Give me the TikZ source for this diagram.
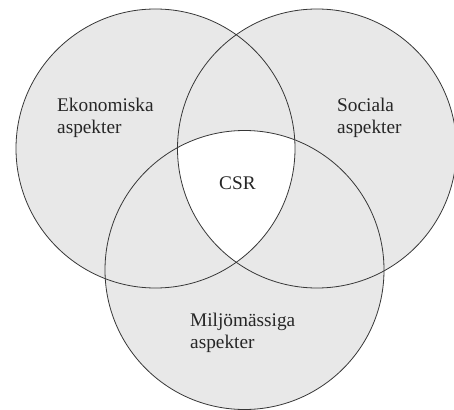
\documentclass[tikz,border=0pt]{standalone}
\usepackage{fontspec}
\setmainfont{Liberation Serif}
\definecolor{vennGray}{RGB}{232,232,232}
\definecolor{vennLine}{RGB}{55,55,55}
\usepackage{tikz}

\begin{document}
\begin{tikzpicture}[x=1pt, y=-1pt,
  disc/.style={fill=vennGray},
  rim/.style={draw=vennLine, line width=0.8pt},
  areatext/.style={anchor=base west, inner sep=0pt, align=left,
                   font=\fontsize{19.3}{22}\selectfont, text=black!85},
]
  \useasboundingbox (0,0) rectangle (454,409);
  \clip (0,0) rectangle (454,409);

  % circle centres
  \coordinate (eko) at (155.5,148.5);
  \coordinate (soc) at (317,148.5);
  \coordinate (milj) at (244.5,270);

  % grey discs
  \foreach \c in {eko, soc, milj}
    \fill[disc] (\c) circle[radius=139.5];

  % white core, where all three meet
  \begin{scope}
    \clip (eko) circle[radius=139.5];
    \clip (soc) circle[radius=139.5];
    \fill[white] (milj) circle[radius=139.5];
  \end{scope}

  % outlines
  \foreach \c in {eko, soc, milj}
    \draw[rim] (\c) circle[radius=139.5];

  % texts (base anchor sits on the last line)
  \node[areatext] (ekotext) at (57,133) {Ekonomiska\\aspekter};
  \node[areatext] (soctext) at (337,133) {Sociala\\aspekter};
  \node[areatext] (miljtext) at (190,348) {Miljömässiga\\aspekter};
  \node[areatext] (csr) at (219,189) {CSR};
\end{tikzpicture}
\end{document}
